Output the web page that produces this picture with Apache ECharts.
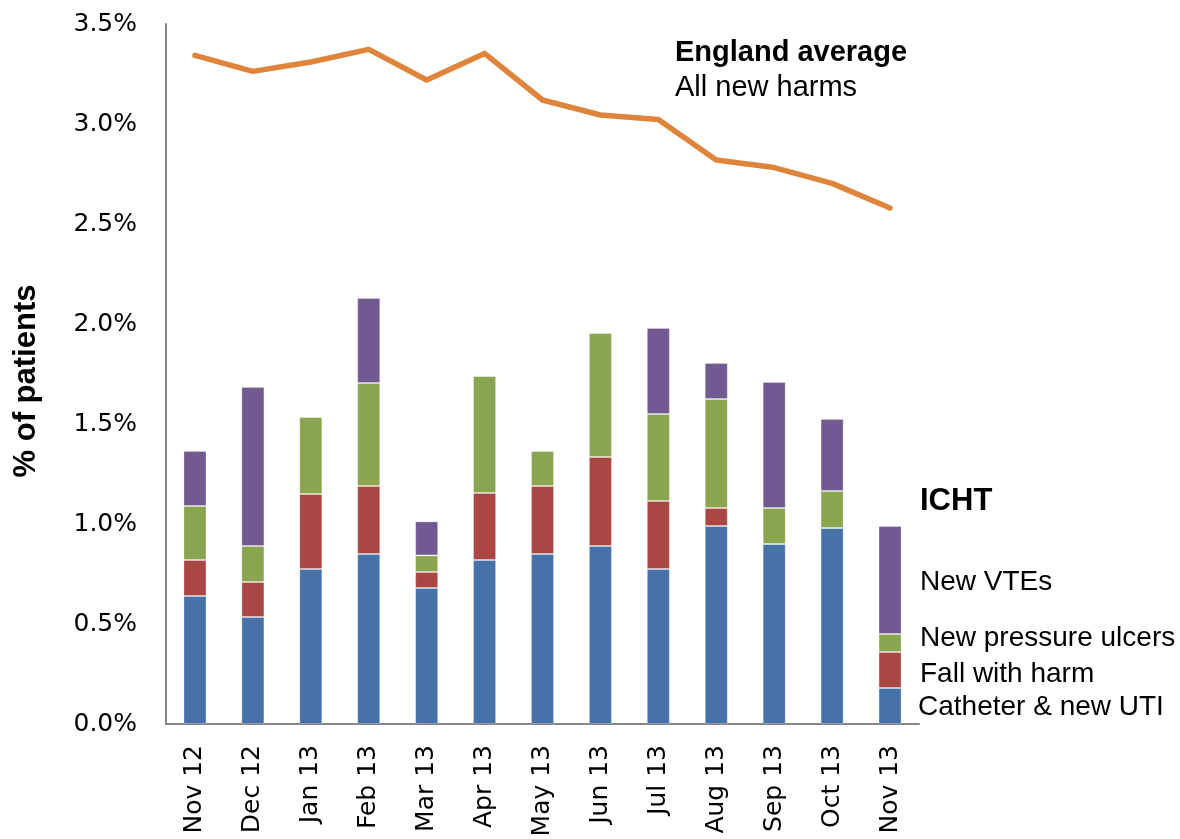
<!DOCTYPE html>
<html>
<head>
<meta charset="utf-8">
<title>ICHT harms</title>
<script src="https://cdn.jsdelivr.net/npm/echarts@6/dist/echarts.min.js"></script>
<style>
	html, body { margin: 0; padding: 0; background: #fff; }
	#harmChart { width: 1180px; height: 839px; }
</style>
</head>
<body>
<div id="harmChart"></div>
<script>
'use strict';

// months on the x axis
var months = ['Nov 12', 'Dec 12', 'Jan 13', 'Feb 13', 'Mar 13', 'Apr 13', 'May 13',
	'Jun 13', 'Jul 13', 'Aug 13', 'Sep 13', 'Oct 13', 'Nov 13'];

// ICHT stacked values, % of patients (bottom to top)
var catheterUti = [0.64, 0.535, 0.775, 0.85, 0.68, 0.82, 0.85, 0.89, 0.775, 0.99, 0.90, 0.98, 0.18];
var fallHarm = [0.18, 0.175, 0.375, 0.34, 0.08, 0.335, 0.34, 0.445, 0.34, 0.09, 0, 0, 0.18];
var pressureUlcers = [0.27, 0.18, 0.385, 0.515, 0.083, 0.585, 0.175, 0.62, 0.435, 0.545, 0.18, 0.185, 0.09];
var newVte = [0.275, 0.795, 0, 0.425, 0.17, 0, 0, 0, 0.43, 0.18, 0.63, 0.36, 0.54];

// England average, all new harms
var englandAvg = [3.343, 3.263, 3.31, 3.373, 3.22, 3.353, 3.12, 3.045, 3.022, 2.82, 2.782, 2.703, 2.58];

var harmChart = (function() {

	function barSeries(name, data, color) {
		return {
			name: name,
			type: 'bar',
			stack: 'icht',
			barWidth: 23,
			data: data,
			itemStyle: {
				color: color,
				borderColor: 'rgba(255,255,255,0.25)',
				borderWidth: 1
			}
		};
	}

	// annotation text on the right / top
	function note(text, x, y, size, bold) {
		return {
			type: 'text',
			x: x,
			y: y,
			style: {
				text: text,
				fill: '#000',
				font: (bold ? 'bold ' : '') + size + 'px "Liberation Sans", Arial, sans-serif',
				textAlign: 'left',
				textVerticalAlign: 'middle'
			}
		};
	}

	function buildChart() {
		var myChart = echarts.init(document.getElementById('harmChart'));
		var yTitle = note('% of patients', 26, 381, 31, true);
		yTitle.rotation = Math.PI / 2;
		yTitle.style.textAlign = 'center';

		var option = {
			animation: false,
			backgroundColor: '#fff',
			grid: {
				left: 166,
				right: 261,
				top: 24,
				bottom: 115,
				containLabel: false,
				outerBoundsMode: 'none'
			},
			xAxis: {
				type: 'category',
				data: months,
				axisLine: { lineStyle: { color: '#868686', width: 2 } },
				axisTick: { show: false },
				axisLabel: {
					rotate: 90,
					margin: 21,
					color: '#000',
					fontSize: 25,
					fontFamily: 'DejaVu Sans'
				}
			},
			yAxis: {
				type: 'value',
				min: 0,
				max: 3.5,
				interval: 0.5,
				axisLine: { show: true, lineStyle: { color: '#868686', width: 2 } },
				axisTick: { show: false },
				splitLine: { show: false },
				axisLabel: {
					margin: 29,
					color: '#000',
					fontSize: 25,
					fontFamily: 'DejaVu Sans',
					formatter: function(v) { return v.toFixed(1) + '%'; }
				}
			},
			series: [
				barSeries('Catheter & new UTI', catheterUti, '#4672A7'),
				barSeries('Fall with harm', fallHarm, '#AA4744'),
				barSeries('New pressure ulcers', pressureUlcers, '#8AA54F'),
				barSeries('New VTEs', newVte, '#715A91'),
				{
					name: 'England average',
					type: 'line',
					data: englandAvg,
					symbol: 'none',
					z: 5,
					lineStyle: { color: '#DF843B', width: 5.5, cap: 'round', join: 'round' }
				}
			],
			graphic: [
				yTitle,
				note('England average', 675, 53, 29, true),
				note('All new harms', 675, 88, 29, false),
				note('ICHT', 920, 501, 31, true),
				note('New VTEs', 920, 582, 28, false),
				note('New pressure ulcers', 920, 638, 28, false),
				note('Fall with harm', 920, 674, 28, false),
				note('Catheter & new UTI', 918, 707, 28, false)
			]
		};
		myChart.setOption(option);
	}

	return {
		buildChart: buildChart
	};
})();

window.onload = function() {
	harmChart.buildChart();
};
</script>
</body>
</html>
